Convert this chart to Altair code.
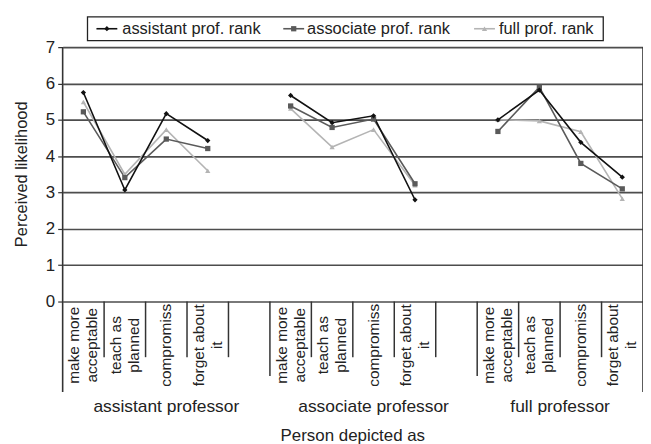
import altair as alt
import pandas as pd

FONT = "Liberation Sans"
TEXT = "#222222"

groups = ["assistant professor", "associate professor", "full professor"]
categories = ["make more|acceptable", "teach as|planned", "compromiss", "forget about|it"]
series = ["assistant prof. rank", "associate prof. rank", "full prof. rank"]

assistant_rank = [5.75, 3.07, 5.17, 4.43, 5.67, 4.92, 5.11, 2.80, 5.00, 5.82, 4.38, 3.42]
associate_rank = [5.22, 3.41, 4.47, 4.21, 5.38, 4.79, 5.02, 3.24, 4.68, 5.90, 3.80, 3.10]
full_rank = [5.49, 3.50, 4.73, 3.60, 5.31, 4.25, 4.73, 3.20, 5.00, 4.97, 4.67, 2.83]

y_ticks = [0, 1, 2, 3, 4, 5, 6, 7]
x_title = "Person depicted as"
y_title = "Perceived likelihood"

colors = {"assistant prof. rank": "#111111", "associate prof. rank": "#5a5a5a", "full prof. rank": "#b4b4b4"}
shapes = {"assistant prof. rank": "diamond", "associate prof. rank": "square", "full prof. rank": "triangle-up"}

per_group = len(categories) + 1
n_slots = len(groups) * per_group - 1

rows = []
for s, vals in zip(series, [assistant_rank, associate_rank, full_rank]):
    for gi, g in enumerate(groups):
        for ci, c in enumerate(categories):
            rows.append(dict(series=s, group=g, category=c,
                             pos=gi * per_group + ci + 0.5,
                             value=vals[gi * len(categories) + ci]))
df = pd.DataFrame(rows)

cat_df = pd.DataFrame([dict(pos=gi * per_group + ci + 0.5, label=c)
                       for gi in range(len(groups)) for ci, c in enumerate(categories)])
short_df = pd.DataFrame([dict(pos=gi * per_group + ci)
                         for gi in range(len(groups)) for ci in range(1, len(categories) + 1)
                         if gi * per_group + ci != n_slots])
long_df = pd.DataFrame([dict(pos=gi * per_group) for gi in range(1, len(groups))])
edge_df = pd.DataFrame([dict(pos=0), dict(pos=n_slots)])
grp_df = pd.DataFrame([dict(pos=(gi * per_group + min(gi * per_group + per_group, n_slots)) / 2, label=g)
                       for gi, g in enumerate(groups)])

W, H = 584, 256
xs = alt.Scale(domain=[0, n_slots], nice=False, zero=False)
ys = alt.Scale(domain=[0, 7], nice=False)
X = alt.X("pos:Q", scale=xs, axis=None)
yaxis = alt.Axis(values=y_ticks, grid=True, gridColor="#4d4d4d", gridWidth=1.7,
                 domain=False, tickColor="#333333", tickSize=5, tickWidth=1.2,
                 labelFontSize=17, labelColor=TEXT, labelFont=FONT, labelPadding=3, title=None)
Y = alt.Y("value:Q", scale=ys, axis=yaxis)

layers = []
for s in reversed(series):
    d = df[df.series == s]
    layers.append(alt.Chart(d).mark_line(color=colors[s], strokeWidth=1.6).encode(
        x=X, y=Y, detail="group:N"))
for s in reversed(series):
    d = df[df.series == s]
    layers.append(alt.Chart(d).mark_point(shape=shapes[s], filled=True, color=colors[s],
                                          size=28, opacity=1).encode(x=X, y=Y))

rule_col = "#333333"
layers.append(alt.Chart(short_df).mark_rule(color=rule_col, strokeWidth=1.5).encode(
    x=X, y=alt.value(H), y2=alt.value(H + 56)))
layers.append(alt.Chart(long_df).mark_rule(color=rule_col, strokeWidth=1.5).encode(
    x=X, y=alt.value(H), y2=alt.value(H + 75)))
layers.append(alt.Chart(edge_df).mark_rule(color=rule_col, strokeWidth=1.6).encode(
    x=X, y=alt.value(0), y2=alt.value(H + 91)))

LH = 18
cat_base = alt.Chart(cat_df)
layers.append(cat_base.transform_filter("indexof(datum.label, '|') >= 0").mark_text(
    angle=270, align="center", baseline="middle", fontSize=15.5, lineHeight=LH, lineBreak="|",
    font=FONT, color=TEXT, dy=-LH / 2).encode(
    x=X, y=alt.value(H + 44), text="label:N"))
layers.append(cat_base.transform_filter("indexof(datum.label, '|') < 0").mark_text(
    angle=270, align="center", baseline="middle", fontSize=15.5,
    font=FONT, color=TEXT).encode(
    x=X, y=alt.value(H + 44), text="label:N"))
layers.append(alt.Chart(grp_df).mark_text(align="center", baseline="middle", fontSize=17.5,
                                          font=FONT, color=TEXT).encode(
    x=X, y=alt.value(H + 106), text="label:N"))
layers.append(alt.Chart(pd.DataFrame({"t": [x_title]})).mark_text(
    align="center", baseline="middle", fontSize=17, font=FONT, color=TEXT).encode(
    x=alt.value(W / 2), y=alt.value(H + 135), text="t:N"))
layers.append(alt.Chart(pd.DataFrame({"t": [y_title]})).mark_text(
    align="center", baseline="middle", angle=270, fontSize=16.5, font=FONT, color=TEXT).encode(
    x=alt.value(-41), y=alt.value(H / 2), text="t:N"))

# legend
ly = -18.5
layers.append(alt.Chart(pd.DataFrame({"t": ["legend"]})).mark_rect(
    fill="white", stroke="#222222", strokeWidth=1.3).encode(
    x=alt.value(25), x2=alt.value(544), y=alt.value(-30.5), y2=alt.value(-6.5)))
leg_pos = [(34, 60), (222, 246), (414, 439)]
for s, (sx, tx) in zip(series, leg_pos):
    one = pd.DataFrame({"series": [s]})
    layers.append(alt.Chart(one).mark_rule(color=colors[s], strokeWidth=1.6).encode(
        x=alt.value(sx), x2=alt.value(sx + 21), y=alt.value(ly)))
    layers.append(alt.Chart(one).mark_point(shape=shapes[s], filled=True, color=colors[s],
                                            size=28, opacity=1).encode(
        x=alt.value(sx + 10.5), y=alt.value(ly)))
    layers.append(alt.Chart(one).mark_text(align="left", baseline="middle", fontSize=16.5,
                                           font=FONT, color=TEXT).encode(
        x=alt.value(tx), y=alt.value(ly + 0.5), text="series:N"))

chart = alt.layer(*layers).properties(
    width=W, height=H,
    autosize=alt.AutoSizeParams(type="none"),
    padding={"left": 55, "top": 38, "right": 0, "bottom": 142},
    background="white",
).configure_view(stroke=None)

chart.save("out.html", embed_options={"renderer": "svg", "actions": False})
